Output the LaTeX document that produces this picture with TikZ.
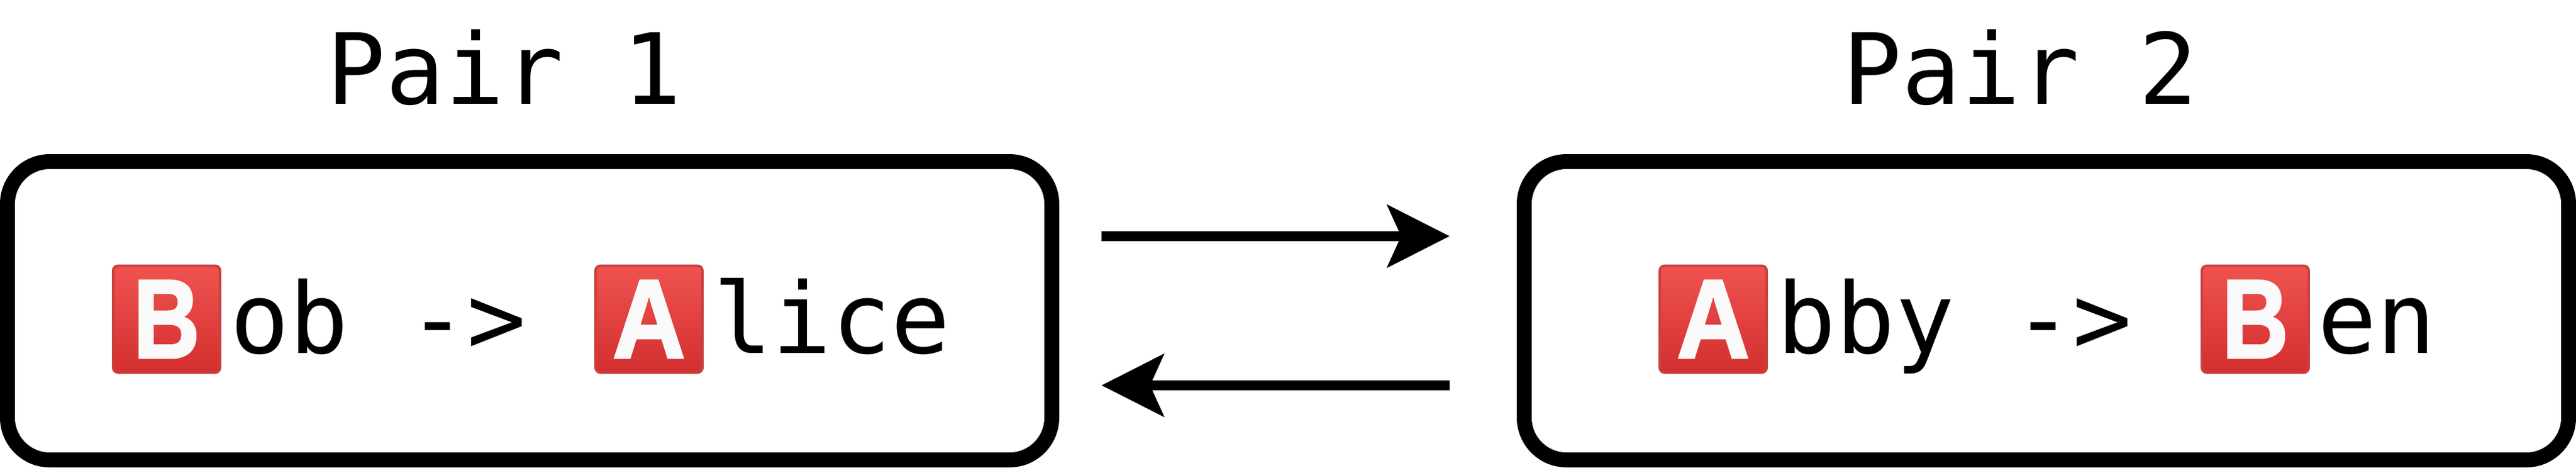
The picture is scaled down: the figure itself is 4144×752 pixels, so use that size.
\documentclass[tikz,border=0pt]{standalone}
\usepackage{fontspec}
\usetikzlibrary{arrows.meta,shadings}
\newfontfamily\labelmono{DejaVu Sans Mono}
\newfontfamily\emojiface{Liberation Sans Bold}
\definecolor{emojitop}{HTML}{EF5350}
\definecolor{emojibot}{HTML}{D32F2F}
\definecolor{emojiedge}{HTML}{C94040}
\definecolor{emojiletter}{HTML}{FAFAFA}
\newcommand{\emojiglyph}[2]{\raisebox{-0.5pt}{\scalebox{#1}[1]{\special{pdf:code q 2 Tr 0.76 0.18 0.18 RG 1 w}\emojiface\fontsize{45}{45}\selectfont\textcolor{emojiletter}{#2}\special{pdf:code Q}}}}
\tikzset{
  x=0.25pt,y=-0.25pt,
  pairbox/.style={draw=black,line width=6pt,rounded corners=17pt,minimum width=420pt,minimum height=120pt,inner sep=0pt},
  title/.style={anchor=base west,inner sep=0pt,font=\labelmono\fontsize{39.5}{39.5}\selectfont},
  monotext/.style={anchor=base west,inner sep=0pt,font=\labelmono\fontsize{39.5}{39.5}\selectfont},
  emojikey/.style={draw=emojiedge,line width=1pt,rounded corners=2pt,top color=emojitop,bottom color=emojibot,minimum size=43pt,inner sep=0pt},
  pairarrow/.style={draw=black,line width=4pt,-{Stealth[length=25pt,width=25pt,inset=5.5pt]}},
}
\begin{document}
\begin{tikzpicture}
\useasboundingbox (0,0) rectangle (4144,752);
\node[title] (t1) at (525,167) {Pair 1};
\node[title] (t2) at (2964,167) {Pair 2};
\node[pairbox] (box1) at (852,500) {};
\node[pairbox] (box2) at (3292,500) {};
\node[emojikey] (eb1) at (268,513.5) {\emojiglyph{0.82}{B}};
\node[monotext] (ob) at (370,568) {ob ->};
\node[emojikey] (ea1) at (1044,513.5) {\emojiglyph{0.9}{A}};
\node[monotext] (lice) at (1147,568) {lice};
\node[emojikey] (ea2) at (2756,513.5) {\emojiglyph{0.9}{A}};
\node[monotext] (bby) at (2858,568) {bby ->};
\node[emojikey] (eb2) at (3628,513.5) {\emojiglyph{0.82}{B}};
\node[monotext] (en) at (3728,568) {en};
\draw[pairarrow,shorten <=17pt,shorten >=27pt] ([yshift=30pt]box1.east) -- ([yshift=30pt]box2.west);
\draw[pairarrow,shorten <=27pt,shorten >=17pt] ([yshift=-30pt]box2.west) -- ([yshift=-30pt]box1.east);
\end{tikzpicture}
\end{document}
